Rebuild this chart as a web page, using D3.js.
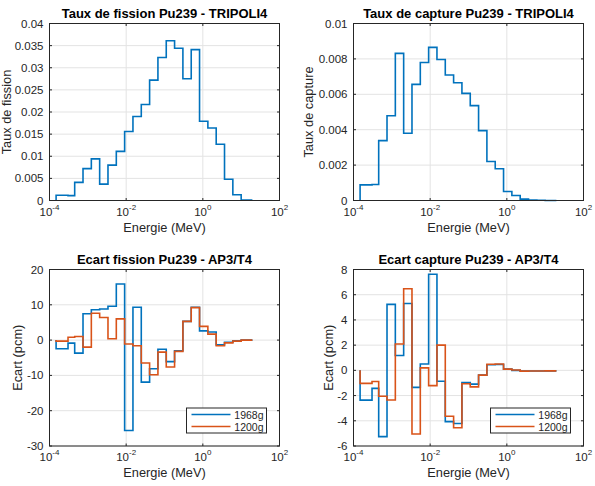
<!doctype html>
<html>
<head>
<meta charset="utf-8">
<title>Pu239 TRIPOLI4 / AP3</title>
<script src="https://cdn.jsdelivr.net/npm/d3@7"></script>
<style>
    body { margin: 0; background: #fff; }
    text { font-family: "Liberation Sans", Arial, sans-serif; }
</style>
</head>
<body>
<div id="chart-area"></div>
<script>
// ECCO group edges (MeV), low to high
var energyEdges = [1.4863e-4, 3.0433e-4, 4.5400e-4, 7.4852e-4, 1.2341e-3, 2.0347e-3, 3.3546e-3, 5.5308e-3,
    9.1188e-3, 1.5034e-2, 2.4788e-2, 4.0868e-2, 6.7379e-2, 1.1109e-1, 1.8316e-1, 3.0197e-1, 4.9787e-1,
    8.2085e-1, 1.3534, 2.2313, 3.6788, 6.0653, 10.0, 19.64];

var fissionRate = [0.0012, 0.0011, 0.0041, 0.0072, 0.0094, 0.0037, 0.0080, 0.0111, 0.0156, 0.0190, 0.0217,
    0.0272, 0.0323, 0.0361, 0.0344, 0.0275, 0.0341, 0.0179, 0.0164, 0.0127, 0.0048, 0.0013, 0.0001];

var captureRate = [0.00088, 0.0009, 0.00338, 0.00479, 0.00831, 0.0038, 0.00656, 0.0078, 0.00865, 0.00797,
    0.00709, 0.00665, 0.00605, 0.00536, 0.00395, 0.0022, 0.00179, 0.00051, 0.00028, 0.00008, 0.00002, 0.00001, 0];

var ecartFission1968 = [-2.45, -0.85, -3.7, 7.45, 8.6, 8.8, 9.6, 15.9, -25.6, 9.3, -11.9, -8.1, -2.6, -6.1,
    -3.0, 5.3, 9.3, 2.6, 2.3, -1.3, -0.6, -0.2, 0];
var ecartFission1200 = [-0.3, 0.8, 1.0, -2.0, 7.6, 6.4, 0.4, 6.0, -1.1, -1.6, -6.5, -9.8, -3.4, -7.6,
    -3.2, 5.3, 9.2, 3.9, 1.7, -1.6, -0.8, -0.3, 0];

var ecartCapture1968 = [-2.36, -1.43, -5.26, 5.23, 1.18, 5.3, -1.35, 0.5, 7.62, -0.86, -4.07, -4.22, -0.97,
    -1.09, -0.38, 0.45, 0.47, 0.1, 0.0, -0.06, -0.05, -0.05, -0.04];
var ecartCapture1200 = [-1.03, -0.88, -2.05, -2.35, 2.09, 6.47, -5.05, 0.2, -1.21, 2.0, -3.64, -4.55, -1.06,
    -1.31, -0.38, 0.48, 0.51, 0.1, 0.03, -0.06, -0.05, -0.05, -0.04];

var xTickExps = [-4, -2, 0, 2];
var fissionTicks = [0, 0.005, 0.01, 0.015, 0.02, 0.025, 0.03, 0.035, 0.04];
var fissionTickLabels = ["0", "0.005", "0.01", "0.015", "0.02", "0.025", "0.03", "0.035", "0.04"];
var captureTicks = [0, 0.002, 0.004, 0.006, 0.008, 0.01];
var captureTickLabels = ["0", "0.002", "0.004", "0.006", "0.008", "0.01"];
var ecartFissionTicks = [-30, -20, -10, 0, 10, 20];
var ecartCaptureTicks = [-6, -4, -2, 0, 2, 4, 6, 8];
var legendLabels = ["1968g", "1200g"];

var blue = "#0072bd", orange = "#d95319";

var svg = d3.select("#chart-area").append("svg").attr("width", 595).attr("height", 486);

function stairsPoints(values) {
    // start from zero at first edge, then one step per group
    var pts = [[energyEdges[0], 0]];
    values.forEach(function(v, i) { pts.push([energyEdges[i], v]); });
    pts.push([energyEdges[energyEdges.length - 1], values[values.length - 1]]);
    return pts;
}

function drawPanel(p) {
    var g = svg.append("g").attr("transform", "translate(" + p.left + "," + p.top + ")");
    var w = p.width, h = p.height;

    var x = d3.scaleLog().domain([1e-4, 1e2]).range([0, w]);
    var y = d3.scaleLinear().domain(p.yDomain).range([h, 0]);

    // grid
    g.selectAll(".gx").data(xTickExps).enter().append("line")
        .attr("x1", function(d){ return x(Math.pow(10, d)); })
        .attr("x2", function(d){ return x(Math.pow(10, d)); })
        .attr("y1", 0).attr("y2", h)
        .attr("stroke", "#e3e3e3").attr("stroke-width", 1);
    g.selectAll(".gy").data(p.yTicks).enter().append("line")
        .attr("x1", 0).attr("x2", w)
        .attr("y1", function(d){ return y(d); })
        .attr("y2", function(d){ return y(d); })
        .attr("stroke", "#e3e3e3").attr("stroke-width", 1);

    // tick marks (inside, all four sides)
    var tl = 2.5;
    xTickExps.forEach(function(e){
        var xx = x(Math.pow(10, e));
        g.append("line").attr("x1", xx).attr("x2", xx).attr("y1", h).attr("y2", h - tl).attr("stroke", "#262626");
        g.append("line").attr("x1", xx).attr("x2", xx).attr("y1", 0).attr("y2", tl).attr("stroke", "#262626");
    });
    p.yTicks.forEach(function(t){
        var yy = y(t);
        g.append("line").attr("x1", 0).attr("x2", tl).attr("y1", yy).attr("y2", yy).attr("stroke", "#262626");
        g.append("line").attr("x1", w).attr("x2", w - tl).attr("y1", yy).attr("y2", yy).attr("stroke", "#262626");
    });

    // series
    var line = d3.line()
        .x(function(d){ return x(d[0]); })
        .y(function(d){ return y(d[1]); })
        .curve(d3.curveStepAfter);
    p.series.forEach(function(s){
        g.append("path")
            .attr("d", line(stairsPoints(s.values)))
            .attr("fill", "none")
            .attr("stroke", s.color)
            .attr("stroke-width", 1.6)
            .attr("stroke-linejoin", "miter");
    });

    // box
    g.append("rect").attr("width", w).attr("height", h)
        .attr("fill", "none").attr("stroke", "#262626").attr("stroke-width", 1);

    // y tick labels
    g.selectAll(".yl").data(p.yTicks).enter().append("text")
        .attr("x", -6)
        .attr("y", function(d){ return y(d) + 4; })
        .attr("text-anchor", "end")
        .attr("font-size", "11.5px")
        .attr("fill", "#262626")
        .text(function(d, i){ return p.yLabels[i]; });

    // x tick labels 10^n
    xTickExps.forEach(function(e){
        var t = g.append("text")
            .attr("x", x(Math.pow(10, e)))
            .attr("y", h + 15)
            .attr("text-anchor", "middle")
            .attr("font-size", "11.5px")
            .attr("fill", "#262626");
        t.append("tspan").text("10");
        t.append("tspan").attr("dy", -6).attr("font-size", "8px").text(e);
    });

    // labels
    g.append("text").attr("x", w / 2).attr("y", h + 31)
        .attr("text-anchor", "middle").attr("font-size", "12.8px").attr("fill", "#262626")
        .text("Energie (MeV)");
    g.append("text").attr("transform", "rotate(-90)")
        .attr("x", -h / 2).attr("y", p.ylabelX)
        .attr("text-anchor", "middle").attr("font-size", "12.8px").attr("fill", "#262626")
        .text(p.ylabel);
    g.append("text").attr("x", w / 2).attr("y", -6)
        .attr("text-anchor", "middle").attr("font-size", "13px").attr("font-weight", "bold")
        .attr("fill", "#000")
        .text(p.title);

    // legend
    if (p.legend) {
        var lw = 80, lh = 25;
        var lg = g.append("g").attr("transform", "translate(" + (w - 13 - lw) + "," + (h - 13 - lh) + ")");
        lg.append("rect").attr("width", lw).attr("height", lh)
            .attr("fill", "#fff").attr("stroke", "#262626").attr("stroke-width", 1);
        legendLabels.forEach(function(lab, i){
            var yy = 6.5 + i * 12;
            lg.append("line").attr("x1", 5).attr("x2", 44).attr("y1", yy).attr("y2", yy)
                .attr("stroke", p.series[i].color).attr("stroke-width", 1.6);
            lg.append("text").attr("x", lw - 3).attr("y", yy + 4)
                .attr("text-anchor", "end").attr("font-size", "10.5px").attr("fill", "#262626")
                .text(lab);
        });
    }
}

drawPanel({ left: 49.5, top: 23.5, width: 230, height: 177,
    yDomain: [0, 0.04], yTicks: fissionTicks, yLabels: fissionTickLabels,
    title: "Taux de fission Pu239 - TRIPOLI4", ylabel: "Taux de fission", ylabelX: -38.5,
    series: [{ values: fissionRate, color: blue }], legend: false });

drawPanel({ left: 353.5, top: 23.5, width: 230, height: 177,
    yDomain: [0, 0.01], yTicks: captureTicks, yLabels: captureTickLabels,
    title: "Taux de capture Pu239 - TRIPOLI4", ylabel: "Taux de capture", ylabelX: -41,
    series: [{ values: captureRate, color: blue }], legend: false });

drawPanel({ left: 49.5, top: 269.5, width: 230, height: 176.5,
    yDomain: [-30, 20], yTicks: ecartFissionTicks, yLabels: ecartFissionTicks.map(String),
    title: "Ecart fission Pu239 - AP3/T4", ylabel: "Ecart (pcm)", ylabelX: -28,
    series: [{ values: ecartFission1968, color: blue }, { values: ecartFission1200, color: orange }], legend: true });

drawPanel({ left: 353.5, top: 269.5, width: 230, height: 176.5,
    yDomain: [-6, 8], yTicks: ecartCaptureTicks, yLabels: ecartCaptureTicks.map(String),
    title: "Ecart capture Pu239 - AP3/T4", ylabel: "Ecart (pcm)", ylabelX: -21,
    series: [{ values: ecartCapture1968, color: blue }, { values: ecartCapture1200, color: orange }], legend: true });
</script>
</body>
</html>
